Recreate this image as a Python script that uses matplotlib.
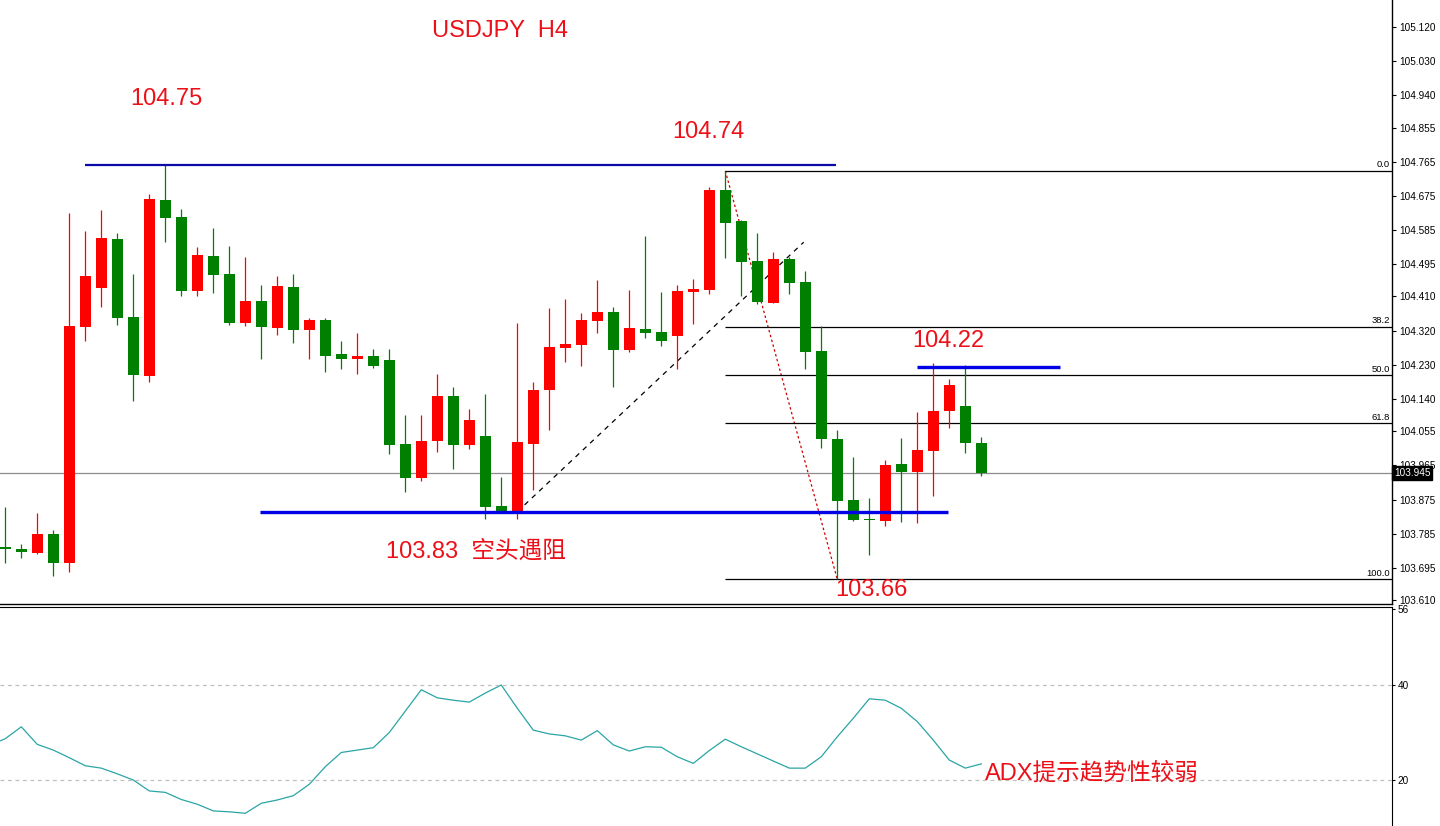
import matplotlib
matplotlib.use("Agg")
import matplotlib.pyplot as plt
import matplotlib.transforms as mtransforms

plt.rcParams['font.family'] = ['Liberation Sans', 'Noto Sans CJK SC', 'DejaVu Sans']

# H4 bars, red = up, green = down
opens = [103.749, 103.745, 103.735, 103.784, 103.708, 104.330, 104.433, 104.561, 104.357, 104.201,
         104.664, 104.619, 104.425, 104.517, 104.469, 104.341, 104.398, 104.328, 104.435, 104.322,
         104.348, 104.258, 104.246, 104.253, 104.243, 104.021, 103.932, 104.030, 104.148, 104.019,
         104.042, 103.858, 103.845, 104.022, 104.163, 104.275, 104.283, 104.346, 104.369, 104.270,
         104.324, 104.316, 104.307, 104.423, 104.427, 104.690, 104.609, 104.503, 104.394, 104.509,
         104.448, 104.266, 104.034, 103.874, 103.824, 103.819, 103.969, 103.947, 104.003, 104.109,
         104.121, 104.025]
highs = [103.856, 103.758, 103.840, 103.795, 104.631, 104.583, 104.638, 104.576, 104.469, 104.679,
         104.756, 104.640, 104.541, 104.590, 104.543, 104.515, 104.440, 104.464, 104.469, 104.354,
         104.353, 104.293, 104.314, 104.273, 104.272, 104.098, 104.098, 104.206, 104.172, 104.113,
         104.153, 103.935, 104.341, 104.184, 104.379, 104.403, 104.366, 104.453, 104.383, 104.427,
         104.569, 104.421, 104.440, 104.456, 104.698, 104.741, 104.612, 104.576, 104.528, 104.513,
         104.478, 104.333, 104.058, 103.988, 103.878, 103.979, 104.038, 104.106, 104.235, 104.193,
         104.229, 104.040]
lows = [103.708, 103.721, 103.731, 103.674, 103.685, 104.293, 104.383, 104.335, 104.135, 104.184,
        104.554, 104.412, 104.412, 104.420, 104.336, 104.333, 104.246, 104.308, 104.288, 104.246,
        104.212, 104.219, 104.206, 104.222, 103.994, 103.896, 103.924, 104.001, 103.955, 104.008,
        103.823, 103.843, 103.825, 103.900, 104.058, 104.238, 104.227, 104.313, 104.172, 104.264,
        104.301, 104.279, 104.218, 104.337, 104.416, 104.512, 104.412, 104.390, 104.392, 104.416,
        104.219, 104.011, 103.665, 103.818, 103.729, 103.806, 103.816, 103.814, 103.884, 104.063,
        103.997, 103.938]
closes = [103.744, 103.737, 103.784, 103.709, 104.332, 104.464, 104.564, 104.354, 104.204, 104.667,
          104.618, 104.425, 104.519, 104.467, 104.341, 104.398, 104.330, 104.438, 104.322, 104.348,
          104.254, 104.246, 104.253, 104.228, 104.019, 103.932, 104.029, 104.148, 104.019, 104.084,
          103.856, 103.845, 104.026, 104.163, 104.277, 104.285, 104.348, 104.369, 104.270, 104.327,
          104.314, 104.293, 104.424, 104.430, 104.690, 104.604, 104.502, 104.396, 104.509, 104.446,
          104.263, 104.034, 103.872, 103.821, 103.821, 103.966, 103.947, 104.005, 104.108, 104.177,
          104.025, 103.946]
# first value belongs to the bar just left of the window
adx_x0 = -1
adx = [27.3,
       28.7, 31.2, 27.5, 26.3, 24.7, 23.0, 22.5, 21.3, 20.0, 17.7,
       17.4, 15.9, 14.9, 13.5, 13.3, 13.0, 15.1, 15.8, 16.7, 19.1,
       22.8, 25.8, 26.3, 26.8, 30.0, 34.5, 39.0, 37.3, 36.8, 36.4,
       38.3, 40.0, 35.1, 30.5, 29.7, 29.3, 28.4, 30.4, 27.4, 26.1,
       27.0, 26.9, 24.9, 23.5, 26.2, 28.6, 27.0, 25.5, 24.0, 22.5,
       22.5, 24.9, 29.1, 33.0, 37.1, 36.8, 35.1, 32.3, 28.4, 24.2,
       22.5, 23.4]

price_ticks = [105.120, 105.030, 104.940, 104.855, 104.765, 104.675, 104.585, 104.495, 104.410,
               104.320, 104.230, 104.140, 104.055, 103.965, 103.875, 103.785, 103.695, 103.610]
adx_ticks = [56, 40, 20]
fib_levels = [0.0, 38.2, 50.0, 61.8, 100.0]
last_price = 103.945

red = '#ff0000'
green = '#008000'
txt_red = '#ec1018'

fig = plt.figure(figsize=(14.4, 8.26), dpi=100)
ax = fig.add_axes([0, 1 - 604 / 826, 1392 / 1440, 604 / 826])
ax2 = fig.add_axes([0, 0, 1392 / 1440, 1 - 607 / 826])

x = list(range(len(opens)))
cols = [red if c >= o else green for o, c in zip(opens, closes)]
bottoms = [min(o, c) for o, c in zip(opens, closes)]
heights = [max(abs(c - o), 0.004) for o, c in zip(opens, closes)]

ax.vlines(x, lows, highs, colors=cols, lw=0.9, zorder=3)
ax.bar(x, heights, bottom=bottoms, width=0.69, color=cols, linewidth=0, zorder=3)

# current price
ax.axhline(last_price, color='#8c8c8c', lw=0.9, zorder=1)

# support / resistance
ax.hlines(highs[10], 4.99, 51.9, color='#0a0aa8', lw=1.6, zorder=4)
ax.hlines(103.842, 15.9, 58.9, color='#0000e6', lw=2.4, zorder=4)
ax.hlines(104.224, 56.98, 65.9, color='#0000e6', lw=2.4, zorder=4)

# trend line and swing line
ax.plot([32, 49.9], [103.843, 104.553], color='black', lw=0.9, ls=(0, (4, 4)), zorder=2)
ax.plot([45, 52], [highs[45], lows[52]], color='#d00000', lw=0.9, ls=(0, (2, 2)), zorder=2)

# fibonacci
fib_hi = highs[45]
fib_lo = lows[52]
for lv in fib_levels:
    p = fib_hi - (fib_hi - fib_lo) * lv / 100
    ax.hlines(p, 45, 86.7, color='black', lw=0.9, zorder=2)
    ax.text(86.55, p + 0.004, '%.1f' % lv, ha='right', va='bottom', fontsize=6.8, zorder=2)

ax.set_xlim(-0.331, 86.67)
ax.set_ylim(103.600, 105.191)
ax.yaxis.tick_right()
ax.set_yticks(price_ticks)
ax.set_yticklabels(['%.3f' % t for t in price_ticks])
ax.tick_params(axis='y', direction='out', length=3, width=0.8, pad=2, labelsize=7.2)
ax.set_xticks([])
for s in ['left', 'top']:
    ax.spines[s].set_visible(False)
ax.spines['right'].set_linewidth(1)
ax.spines['bottom'].set_linewidth(1)

# price box sits over the 103.965 label, as in the terminal
trans = mtransforms.blended_transform_factory(ax.transAxes, ax.transData)
ax.text(1.0015, last_price, '%.3f' % last_price, transform=trans, color='white', fontsize=7.2,
        ha='left', va='center', zorder=6,
        bbox=dict(boxstyle='square,pad=0.18', facecolor='black', edgecolor='black'))

ax.text(26.7, 105.094, 'USDJPY  H4', color=txt_red, fontsize=17)
ax.text(7.79, 104.914, '104.75', color=txt_red, fontsize=17)
ax.text(41.7, 104.827, '104.74', color=txt_red, fontsize=17)
ax.text(56.7, 104.278, '104.22', color=txt_red, fontsize=17)
ax.text(23.8, 103.723, '103.83  空头遇阻', color=txt_red, fontsize=17)
ax.text(51.85, 103.621, '103.66', color=txt_red, fontsize=17)

# ADX panel
adx_idx = list(range(adx_x0, adx_x0 + len(adx)))
ax2.plot(adx_idx, adx, color='#2aa5a5', lw=0.9)
ax2.axhline(40, color='#c0c0c0', lw=0.9, ls=(0, (3, 3)))
ax2.axhline(20, color='#c0c0c0', lw=0.9, ls=(0, (3, 3)))
ax2.text(61.23, 20.15, 'ADX提示趋势性较弱', color=txt_red, fontsize=17)
ax2.set_xlim(-0.331, 86.67)
ax2.set_ylim(10.32, 56.42)
ax2.yaxis.tick_right()
ax2.set_yticks(adx_ticks)
ax2.set_yticklabels([str(t) for t in adx_ticks])
ax2.tick_params(axis='y', direction='out', length=2, width=0.8, pad=2, labelsize=7.2)
ax2.set_xticks([])
for s in ['left', 'bottom']:
    ax2.spines[s].set_visible(False)

fig.savefig('out.png', dpi=100)
